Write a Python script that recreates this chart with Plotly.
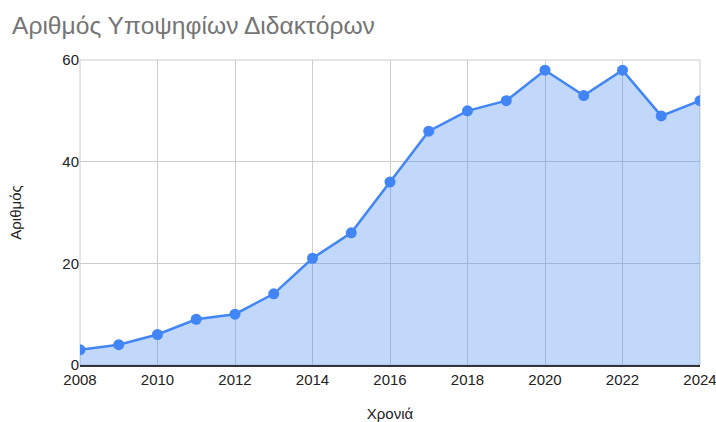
import plotly.graph_objects as go

years = [2008, 2009, 2010, 2011, 2012, 2013, 2014, 2015, 2016, 2017, 2018, 2019, 2020, 2021, 2022, 2023, 2024]
counts = [3, 4, 6, 9, 10, 14, 21, 26, 36, 46, 50, 52, 58, 53, 58, 49, 52]
title_text = "Αριθμός Υποψηφίων Διδακτόρων"
x_title = "Χρονιά"
y_title = "Αριθμός"

FONT = "Liberation Sans, Arial, sans-serif"
W, H = 716, 422

fig = go.Figure()
fig.add_trace(go.Scatter(
    x=years, y=counts, mode="lines+markers",
    fill="tozeroy", fillcolor="rgba(66,133,244,0.32)",
    line=dict(color="#4285F4", width=2.5),
    marker=dict(color="#4285F4", size=11),
    cliponaxis=True,
))

fig.update_layout(
    width=W, height=H,
    margin=dict(l=80, r=16, t=60, b=57, autoexpand=False),
    paper_bgcolor="white", plot_bgcolor="white",
    font=dict(family=FONT, color="#222222", size=15),
    title=dict(text=title_text, x=12 / W, xanchor="left", y=1 - 25 / H, yanchor="middle",
               automargin=False,
               font=dict(size=24.6, color="#757575", family=FONT)),
    showlegend=False,
    xaxis=dict(
        range=[2008, 2024], tickmode="linear", tick0=2008, dtick=2,
        showgrid=True, gridcolor="#cccccc", gridwidth=1,
        showline=True, linecolor="#333333", linewidth=1.5,
        ticks="", tickfont=dict(size=15, color="#222222"),
        ticklabeloverflow="allow",
        title=dict(text=x_title, font=dict(size=15, color="#222222"), standoff=25),
        zeroline=False, mirror=False, automargin=False,
    ),
    yaxis=dict(
        range=[0, 60], tickmode="array", tickvals=[0, 20, 40, 60],
        showgrid=True, gridcolor="#cccccc", gridwidth=1,
        showline=False, zeroline=False,
        ticks="", tickfont=dict(size=15, color="#222222"),
        title=dict(text=y_title, font=dict(size=15, color="#222222"), standoff=37),
        automargin=False,
    ),
)

# plot-area border (left, top, right) in light gray
fig.add_shape(type="rect", xref="paper", yref="paper", x0=0, y0=0, x1=1, y1=1,
              line=dict(color="#cccccc", width=1), layer="below")

post = ("document.body.style.margin='0';"
        "document.body.style.overflow='hidden';"
        "document.documentElement.style.overflow='hidden';")
fig.write_html("out.html", post_script=post, config={"displayModeBar": False})
